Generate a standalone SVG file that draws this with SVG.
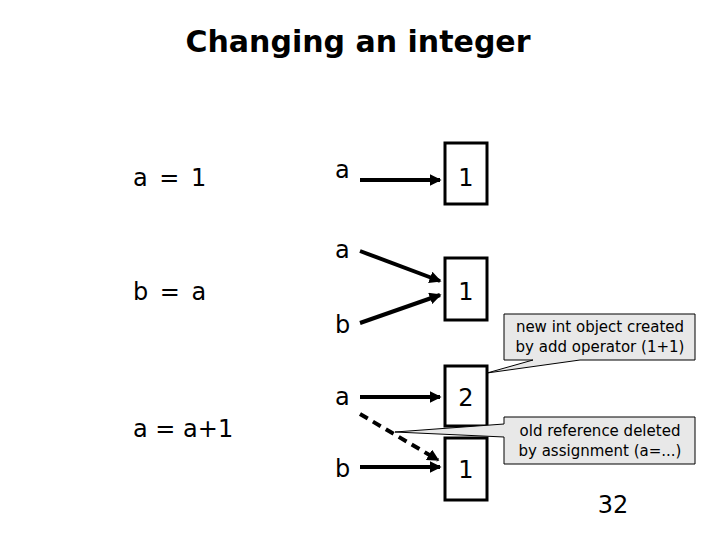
<svg xmlns="http://www.w3.org/2000/svg" width="720" height="540" viewBox="0 0 720 540">
<defs>
<style>
text{font-family:"DejaVu Sans",Verdana,sans-serif;fill:#000}
.t{font-size:24px}
.box{fill:#fff;stroke:#000;stroke-width:3}
.ln{stroke:#000;stroke-width:4;fill:none}
.co{fill:#e8e8e8;stroke:#000;stroke-width:1}
.cs{font-size:15px}
</style>
<marker id="ah" markerWidth="3" markerHeight="3" refX="2.6" refY="1.5" orient="auto" markerUnits="strokeWidth"><path d="M0,0L3,1.5L0,3z" fill="#000"/></marker>
</defs>
<rect width="720" height="540" fill="#fff"/>
<text x="358" y="52" text-anchor="middle" font-size="30" font-weight="bold">Changing an integer</text>
<text class="t" x="133" y="186" word-spacing="4">a = 1</text>
<text class="t" x="133" y="300" word-spacing="4">b = a</text>
<text class="t" x="133" y="437">a = a+1</text>
<g id="labels">
<text class="t" x="335" y="178">a</text>
<text class="t" x="335" y="258">a</text>
<text class="t" x="335" y="333">b</text>
<text class="t" x="335" y="405">a</text>
<text class="t" x="335" y="477">b</text>
</g>
<g id="box1"><rect class="box" x="445" y="143" width="42" height="61"/><text class="t" x="466" y="186" text-anchor="middle">1</text></g>
<g id="box2"><rect class="box" x="445" y="258" width="42" height="62"/><text class="t" x="466" y="300" text-anchor="middle">1</text></g>
<g id="box3"><rect class="box" x="445" y="366" width="42" height="60"/><text class="t" x="466" y="406" text-anchor="middle">2</text></g>
<g id="box4"><rect class="box" x="445" y="438" width="42" height="62"/><text class="t" x="466" y="478" text-anchor="middle">1</text></g>
<g id="connectors">
<line class="ln" x1="360" y1="180" x2="440" y2="180" marker-end="url(#ah)"/>
<line class="ln" x1="360" y1="251" x2="440" y2="281" marker-end="url(#ah)"/>
<line class="ln" x1="360" y1="323" x2="440" y2="295" marker-end="url(#ah)"/>
<line class="ln" x1="360" y1="397" x2="440" y2="397" marker-end="url(#ah)"/>
<line class="ln" x1="360" y1="414" x2="438" y2="460" stroke-dasharray="9,6" marker-end="url(#ah)"/>
<line class="ln" x1="360" y1="467" x2="440" y2="467" marker-end="url(#ah)"/>
</g>
<g id="callout1">
<path class="co" d="M504,314H695V360H580L487,373L533,360H504Z"/>
<text class="cs" x="600" y="332" text-anchor="middle">new int object created</text>
<text class="cs" x="600" y="352" text-anchor="middle">by add operator (1+1)</text>
</g>
<g id="callout2">
<path class="co" d="M504,417H695V464H504V437L395,432L504,424Z"/>
<text class="cs" x="600" y="436" text-anchor="middle">old reference deleted</text>
<text class="cs" x="600" y="456" text-anchor="middle">by assignment (a=...)</text>
</g>
<text class="t" x="613" y="513" text-anchor="middle">32</text>
</svg>
